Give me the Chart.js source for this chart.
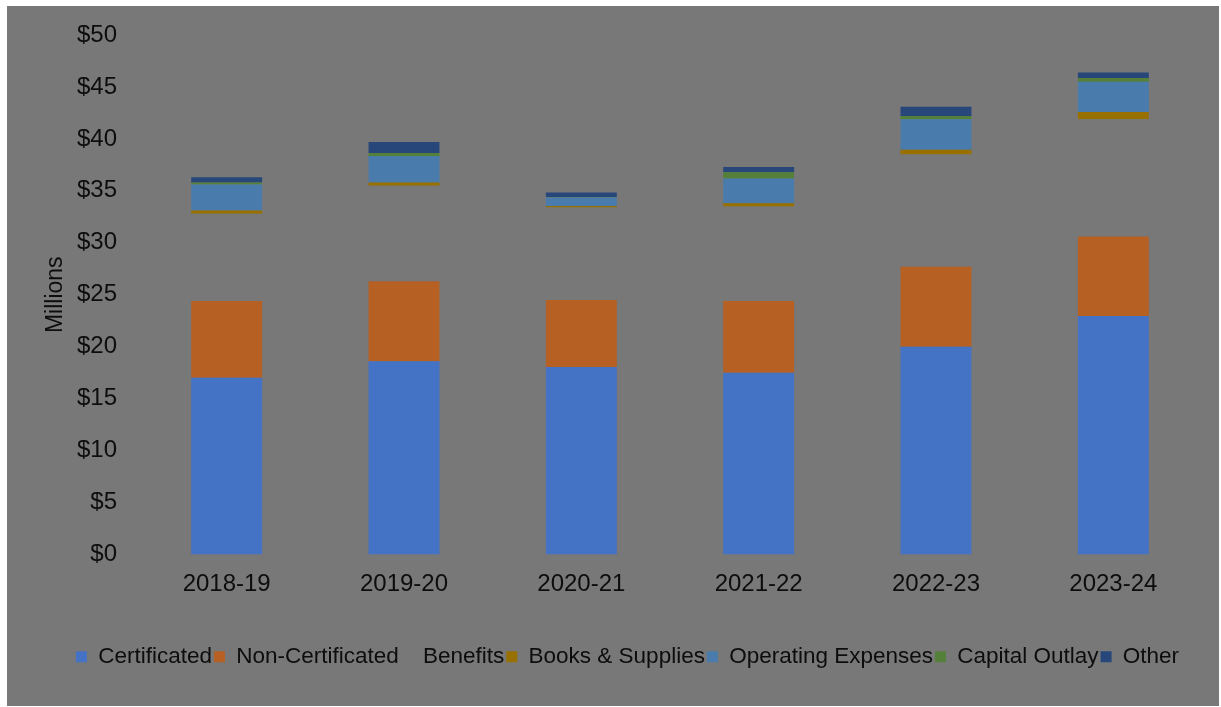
<!DOCTYPE html>
<html>
<head>
<meta charset="utf-8">
<script src="https://cdn.jsdelivr.net/npm/chart.js@4"></script>
<style>
  body { margin: 0; background: #ffffff; }
  #wrap { position: absolute; left: 7px; top: 6px; width: 1212px; height: 700px; background: #787878; }
</style>
</head>
<body>
<div id="wrap"><canvas id="chart" width="1212" height="700"></canvas></div>
<script>
// years and expense categories, in millions of dollars
const years = ['2018-19', '2019-20', '2020-21', '2021-22', '2022-23', '2023-24'];
const certificated = [17.0, 18.6, 18.05, 17.5, 20.0, 22.95];
const nonCertificated = [7.4, 7.7, 6.45, 6.9, 7.7, 7.65];
const benefits = [8.4, 9.2, 8.9, 9.1, 10.8, 11.3];
const booksSupplies = [0.3, 0.3, 0.15, 0.3, 0.45, 0.7];
const operatingExpenses = [2.5, 2.55, 0.8, 2.4, 2.95, 2.9];
const capitalOutlay = [0.2, 0.3, 0.05, 0.6, 0.3, 0.35];
const other = [0.5, 1.05, 0.45, 0.5, 0.9, 0.55];

const bgGray = '#787878';
const textColor = '#0d0d0d';
const font = "'Liberation Sans', Arial, sans-serif";

function makeDataset(label, data, color) {
  return {
    label: label,
    data: data,
    backgroundColor: color,
    borderWidth: 0,
    barPercentage: 1,
    categoryPercentage: 0.4
  };
}

const ctx = document.getElementById('chart').getContext('2d');
new Chart(ctx, {
  type: 'bar',
  data: {
    labels: years,
    datasets: [
      makeDataset('Certificated', certificated, '#4472c4'),
      makeDataset('Non-Certificated', nonCertificated, '#b66024'),
      makeDataset('Benefits', benefits, bgGray), // same as background, so it shows as a gap
      makeDataset('Books & Supplies', booksSupplies, '#977000'),
      makeDataset('Operating Expenses', operatingExpenses, '#497cac'),
      makeDataset('Capital Outlay', capitalOutlay, '#55803a'),
      makeDataset('Other', other, '#27467a')
    ]
  },
  options: {
    responsive: false,
    animation: false,
    layout: {
      padding: { left: 46, right: 17, top: 29, bottom: 28 }
    },
    plugins: {
      legend: {
        position: 'bottom',
        labels: {
          color: textColor,
          boxWidth: 11,
          boxHeight: 11,
          padding: 2,
          font: { family: font, size: 22.5 }
        }
      },
      tooltip: { enabled: false }
    },
    scales: {
      x: {
        stacked: true,
        grid: { display: false, drawTicks: false },
        border: { display: false },
        ticks: { color: textColor, padding: 15, font: { family: font, size: 24 } },
        afterFit: function(scale) { scale.height = 89; }
      },
      y: {
        stacked: true,
        min: 0,
        max: 50,
        grid: { display: false, drawTicks: false },
        border: { display: false },
        ticks: {
          stepSize: 5,
          color: textColor,
          padding: 21,
          font: { family: font, size: 24 },
          callback: function(value) { return '$' + value; }
        },
        title: {
          display: true,
          text: 'Millions',
          color: textColor,
          padding: { top: -11, bottom: 0 },
          font: { family: font, size: 23 }
        },
        afterFit: function(scale) {
          scale.width = 85;
          // tick padding should not push the plot top down
          scale.paddingTop = 0;
          scale.paddingBottom = 0;
        }
      }
    }
  }
});
</script>
</body>
</html>
